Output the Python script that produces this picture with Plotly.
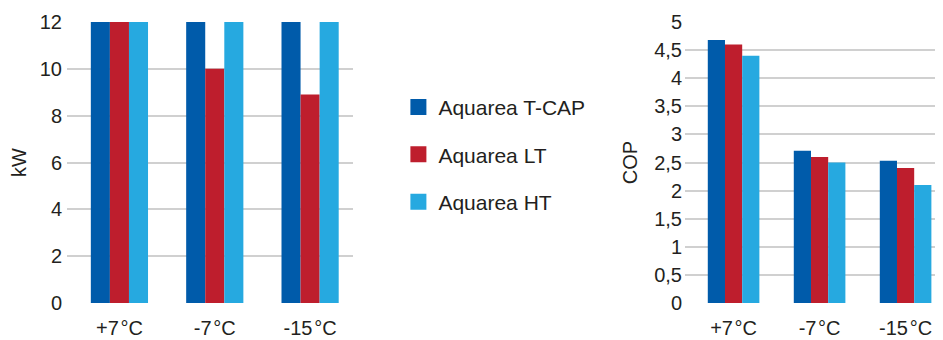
import plotly.graph_objects as go

categories = ["+7\u200a°C", "-7\u200a°C", "-15\u200a°C"]
series_names = ["Aquarea T-CAP", "Aquarea LT", "Aquarea HT"]
colors = ["#005BAA", "#BE1E2D", "#26A9E0"]

kw_tcap = [12, 12, 12]
kw_lt = [12, 10, 8.9]
kw_ht = [12, 12, 12]

cop_tcap = [4.68, 2.71, 2.53]
cop_lt = [4.6, 2.6, 2.4]
cop_ht = [4.4, 2.5, 2.1]

kw_ticks = [0, 2, 4, 6, 8, 10, 12]
cop_ticks = [0, 0.5, 1, 1.5, 2, 2.5, 3, 3.5, 4, 4.5, 5]
cop_ticktext = ["0", "0,5", "1", "1,5", "2", "2,5", "3", "3,5", "4", "4,5", "5"]

kw_values = [kw_tcap, kw_lt, kw_ht]
cop_values = [cop_tcap, cop_lt, cop_ht]

FONT = "Liberation Sans, Arial, Helvetica, sans-serif"
TXT = "#231F20"
GRID = "#D0D0D0"
W, H = 943, 340

fig = go.Figure()
for name, col, vals in zip(series_names, colors, kw_values):
    fig.add_trace(go.Bar(x=categories, y=vals, name=name, marker=dict(color=col, line=dict(width=0)),
                         xaxis="x", yaxis="y", showlegend=False))
for name, col, vals in zip(series_names, colors, cop_values):
    fig.add_trace(go.Bar(x=categories, y=vals, name=name, marker=dict(color=col, line=dict(width=0)),
                         xaxis="x2", yaxis="y2", showlegend=False))
# legend entries
for i, (name, col) in enumerate(zip(series_names, colors)):
    fig.add_trace(go.Scatter(x=[None], y=[None], mode="markers", name=name,
                             marker=dict(symbol="square", size=19, color=col),
                             legendgroup=str(i), xaxis="x", yaxis="y"))

tickfont = dict(family=FONT, size=20, color=TXT)
axis_common = dict(showline=False, ticks="", zeroline=False, showgrid=False, tickfont=tickfont)
yax_common = dict(showline=False, ticks="", zeroline=False, showgrid=True, gridcolor=GRID, gridwidth=1.5,
                  tickfont=tickfont)

fig.update_layout(
    width=W, height=H,
    margin=dict(l=0, r=0, t=14, b=45),
    paper_bgcolor="white", plot_bgcolor="white",
    barmode="group", bargap=0.4, bargroupgap=0,
    font=dict(family=FONT, color=TXT),
    xaxis=dict(domain=[59 / W, 345 / W], range=[-0.55, 2.45], ticklabelstandoff=11, **axis_common),
    yaxis=dict(range=[0, 12], tickvals=kw_ticks, ticklabelstandoff=4,
               title=dict(text="kW", font=dict(family=FONT, size=20, color=TXT), standoff=8),
               **yax_common),
    xaxis2=dict(domain=[677 / W, 935 / W], range=[-0.565, 2.435], anchor="y2", ticklabelstandoff=11,
                **axis_common),
    yaxis2=dict(range=[0, 5], anchor="x2", tickvals=cop_ticks, ticktext=cop_ticktext, ticklabelstandoff=2,
                title=dict(text="COP", font=dict(family=FONT, size=20, color=TXT), standoff=11),
                **yax_common),
    legend=dict(x=0.414, y=0.769, xanchor="left", yanchor="top", tracegroupgap=17,
                font=dict(family=FONT, size=21, color=TXT), bgcolor="rgba(0,0,0,0)"),
)

fig.write_html("out.html")
